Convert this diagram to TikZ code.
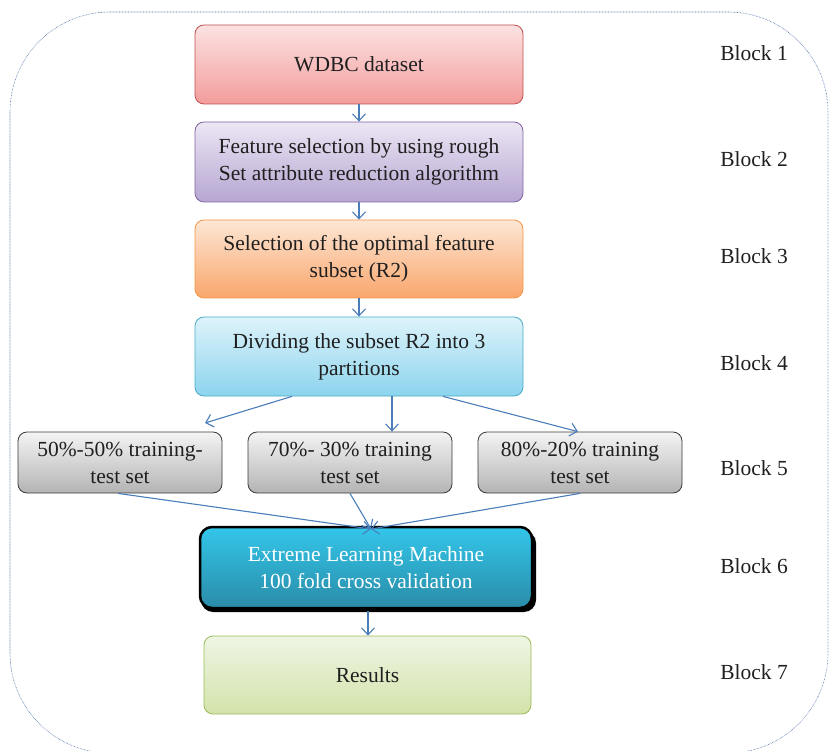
\documentclass[tikz,border=0pt]{standalone}
\usepackage{fontspec}
\setmainfont{Liberation Serif}
\usetikzlibrary{arrows.meta,calc}
\definecolor{arrowblue}{HTML}{4A7EBB}
\definecolor{framecol}{HTML}{4F6FA8}
\definecolor{redT}{HTML}{FCE2E2}\definecolor{redB}{HTML}{F39C9C}\definecolor{redD}{HTML}{C0504D}
\definecolor{purT}{HTML}{ECE6F4}\definecolor{purB}{HTML}{B6A6D2}\definecolor{purD}{HTML}{8064A2}
\definecolor{orgT}{HTML}{FDE6D4}\definecolor{orgB}{HTML}{F9A66C}\definecolor{orgD}{HTML}{F79646}
\definecolor{bluT}{HTML}{DEF3FA}\definecolor{bluB}{HTML}{8CD4EE}\definecolor{bluD}{HTML}{4BACC6}
\definecolor{gryT}{HTML}{F4F4F4}\definecolor{gryB}{HTML}{B4B4B4}\definecolor{gryD}{HTML}{3A3A3A}
\definecolor{elmT}{HTML}{33C6EA}\definecolor{elmB}{HTML}{2A8CA8}
\definecolor{grnT}{HTML}{EFF5E4}\definecolor{grnB}{HTML}{D3E3AA}\definecolor{grnD}{HTML}{9BBB59}
\begin{document}
\begin{tikzpicture}[x=1pt,y=-1pt,
  box/.style={rounded corners=9pt, minimum width=328pt, minimum height=79pt, align=center,
    font=\fontsize{21.5}{27}\selectfont, line width=0.8pt, inner sep=0pt, text=black!88},
  smallbox/.style={box, minimum width=204pt, minimum height=61pt, top color=gryT, bottom color=gryB, draw=gryD},
  conn/.style={draw=arrowblue, line width=1.1pt, -{Straight Barb[length=7pt,width=13pt]}},
  blocklabel/.style={font=\fontsize{21.5}{27}\selectfont, text=black!88}]
\useasboundingbox (0,0) rectangle (830,751);
\draw[framecol, line width=0.6pt, dash pattern=on 0.6pt off 0.9pt, rounded corners=100pt] (10,12) rectangle (828,753);

\node[box, top color=redT, bottom color=redB, draw=redD] (n1) at (359,64.5) {WDBC dataset};
\node[box, minimum height=80pt, top color=purT, bottom color=purB, draw=purD] (n2) at (359,162) {Feature selection by using rough\\Set attribute reduction algorithm};
\node[box, minimum height=78pt, top color=orgT, bottom color=orgB, draw=orgD] (n3) at (359,259) {Selection of the optimal feature\\subset (R2)};
\node[box, top color=bluT, bottom color=bluB, draw=bluD] (n4) at (359,356.5) {Dividing the subset R2 into 3\\partitions};
\node[smallbox] (n5a) at (120,462.5) {50\%-50\% training-\\test set};
\node[smallbox] (n5b) at (350,462.5) {70\%- 30\% training\\test set};
\node[smallbox] (n5c) at (580,462.5) {80\%-20\% training\\test set};
\fill[black, rounded corners=12pt] (201,531) rectangle (536,612);
\node[box, minimum width=332pt, minimum height=81pt, rounded corners=12pt, top color=elmT, bottom color=elmB, draw=black, line width=2.5pt, text=white] (n6) at (366,567.5) {Extreme Learning Machine\\100 fold cross validation};
\node[box, minimum width=327pt, minimum height=78pt, top color=grnT, bottom color=grnB, draw=grnD] (n7) at (367.5,675) {Results};

\node[blocklabel] (b1) at (754,53) {Block 1};
\node[blocklabel] (b2) at (754,159) {Block 2};
\node[blocklabel] (b3) at (754,256) {Block 3};
\node[blocklabel] (b4) at (754,363) {Block 4};
\node[blocklabel] (b5) at (754,468) {Block 5};
\node[blocklabel] (b6) at (754,566) {Block 6};
\node[blocklabel] (b7) at (754,672) {Block 7};

\coordinate (t5a) at (205,423);
\coordinate (m6) at (371,529);

\draw[conn] (n1.south) -- (n2.north);
\draw[conn] (n2.south) -- (n3.north);
\draw[conn] (n3.south) -- (n4.north);
\draw[conn] ($(n4.south)+(-67,0)$) -- (t5a);
\draw[conn] ($(n4.south)+(33,0)$) -- ($(n5b.north)+(42,0)$);
\draw[conn] ($(n4.south)+(84,0)$) -- ($(n5c.north)+(-2,0)$);
\draw[conn] ($(n5a.south)+(-2,0)$) -- (m6);
\draw[conn] (n5c.south) -- (m6);
\draw[conn] (n5b.south) -- (m6);
\draw[conn] ($(n6.south)+(2,2)$) -- ($(n7.north)+(0.5,0)$);
\end{tikzpicture}
\end{document}
